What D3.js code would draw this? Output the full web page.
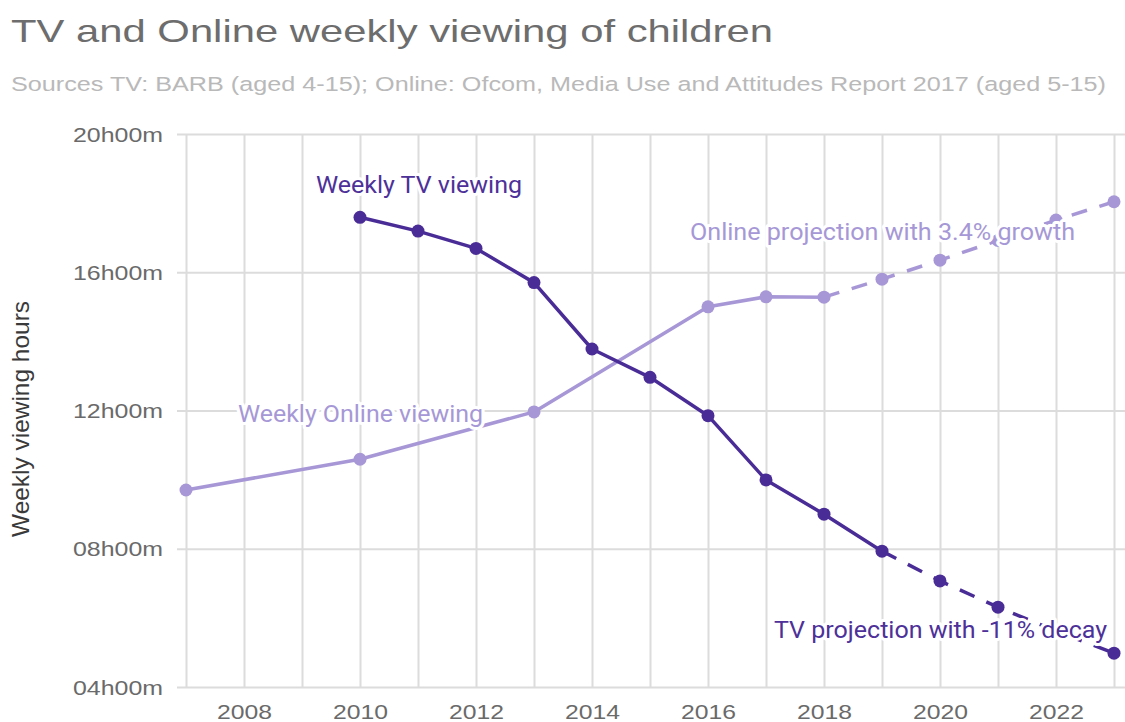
<!DOCTYPE html>
<html>
<head>
<meta charset="utf-8">
<script src="https://cdn.jsdelivr.net/npm/d3@7"></script>
<style>
  html, body { margin: 0; padding: 0; background: #fff; }
  svg { display: block; }
  text { font-family: "Liberation Sans", Arial, sans-serif; }
  .note { font-family: Roboto, "Liberation Sans", sans-serif; paint-order: stroke; stroke: #fff; stroke-width: 6px; stroke-linejoin: round; }
</style>
</head>
<body>
<script>
// Weekly viewing hours of children, TV (BARB) and online (Ofcom)
const tvYears      = [2010, 2011, 2012, 2013, 2014, 2015, 2016, 2017, 2018, 2019];
const tvHours      = [17.59, 17.19, 16.69, 15.70, 13.78, 12.96, 11.85, 9.99, 9.00, 7.93];
const tvProjYears  = [2019, 2020, 2021, 2022, 2023];
const tvProjHours  = [7.93, 7.07, 6.31, 5.62, 4.98];

const onlineYears     = [2007, 2010, 2013, 2016, 2017, 2018];
const onlineHours     = [9.70, 10.59, 11.96, 15.00, 15.29, 15.28];
const onlineProjYears = [2018, 2019, 2020, 2021, 2022, 2023];
const onlineProjHours = [15.28, 15.80, 16.35, 16.92, 17.51, 18.04];

const gridYears  = d3.range(2007, 2024);
const yearLabels = [2008, 2010, 2012, 2014, 2016, 2018, 2020, 2022];
const hourTicks  = [4, 8, 12, 16, 20];

const title    = "TV and Online weekly viewing of children";
const subtitle = "Sources TV: BARB (aged 4-15); Online: Ofcom, Media Use and Attitudes Report 2017 (aged 5-15)";
const yTitle   = "Weekly viewing hours";

const W = 1125, H = 722;
const plot = { left: 177, right: 1125, top: 134, bottom: 687 };

const TV_COLOR = "#4a2c97";
const ONLINE_COLOR = "#a797d6";
const GRID = "#dcdcdc";

const x = d3.scaleLinear().domain([2007, 2023]).range([186, 1114]);
const y = d3.scaleLinear().domain([4, 20]).range([plot.bottom, plot.top]);

const svg = d3.select("body").append("svg").attr("width", W).attr("height", H);

// Title and subtitle
svg.append("text")
  .attr("x", 11).attr("y", 42)
  .attr("font-size", 32).attr("fill", "#6d6d6d")
  .attr("textLength", 762).attr("lengthAdjust", "spacingAndGlyphs")
  .text(title);

svg.append("text")
  .attr("x", 11).attr("y", 91)
  .attr("font-size", 20.5).attr("fill", "#b9b9b9")
  .attr("textLength", 1095).attr("lengthAdjust", "spacingAndGlyphs")
  .text(subtitle);

// Horizontal grid + hour labels
const hourFmt = v => d3.format("02d")(v) + "h00m";
const yAxis = svg.append("g")
  .attr("transform", `translate(${plot.left},0)`)
  .call(d3.axisLeft(y).tickValues(hourTicks).tickSize(-(plot.right - plot.left)).tickPadding(14).tickFormat(hourFmt));
yAxis.select(".domain").remove();
yAxis.selectAll(".tick line").attr("stroke", GRID).attr("stroke-width", 2);
yAxis.selectAll(".tick text")
  .attr("font-size", 20).attr("fill", "#6a6a6a")
  .attr("font-family", "Liberation Sans, Arial, sans-serif")
  .attr("dy", "0.36em")
  .attr("textLength", 90).attr("lengthAdjust", "spacingAndGlyphs");

// Vertical grid + year labels
const xAxis = svg.append("g")
  .attr("transform", `translate(0,${plot.bottom})`)
  .call(d3.axisBottom(x).tickValues(gridYears).tickSize(-(plot.bottom - plot.top)).tickPadding(0)
    .tickFormat(v => yearLabels.includes(v) ? String(v) : ""));
xAxis.select(".domain").remove();
xAxis.selectAll(".tick line").attr("stroke", GRID).attr("stroke-width", 2);
xAxis.selectAll(".tick text")
  .attr("font-size", 21).attr("fill", "#6a6a6a")
  .attr("font-family", "Liberation Sans, Arial, sans-serif")
  .attr("y", 32).attr("dy", 0)
  .each(function (d) {
    if (yearLabels.includes(d)) d3.select(this).attr("textLength", 55).attr("lengthAdjust", "spacingAndGlyphs");
  });

// Y axis title
svg.append("text")
  .attr("transform", `translate(29,419) rotate(-90)`)
  .attr("text-anchor", "middle")
  .attr("font-size", 24).attr("fill", "#3a3a3a")
  .attr("textLength", 236).attr("lengthAdjust", "spacingAndGlyphs")
  .text(yTitle);

// Series
const line = d3.line().x(d => x(d[0])).y(d => y(d[1]));
const zip = (a, b) => a.map((v, i) => [v, b[i]]);

function drawSeries(years, hours, projYears, projHours, color) {
  const g = svg.append("g");
  g.append("path").datum(zip(projYears, projHours))
    .attr("d", line).attr("fill", "none").attr("stroke", color)
    .attr("stroke-width", 3.5).attr("stroke-dasharray", "16,13");
  g.append("path").datum(zip(years, hours))
    .attr("d", line).attr("fill", "none").attr("stroke", color)
    .attr("stroke-width", 3.5).attr("stroke-linejoin", "round");
  const pts = zip(years, hours).concat(zip(projYears, projHours).slice(1));
  g.selectAll("circle").data(pts).join("circle")
    .attr("cx", d => x(d[0])).attr("cy", d => y(d[1])).attr("r", 6.5)
    .attr("fill", color);
}

drawSeries(onlineYears, onlineHours, onlineProjYears, onlineProjHours, ONLINE_COLOR);
drawSeries(tvYears, tvHours, tvProjYears, tvProjHours, TV_COLOR);

// Annotations
const notes = [
  { text: "Weekly TV viewing", x: 316, y: 193, len: 206, color: "#4d3199" },
  { text: "Weekly Online viewing", x: 238, y: 422, len: 245, color: "#a698d6" },
  { text: "Online projection with 3.4% growth", x: 690, y: 240, len: 385, color: "#a698d6" },
  { text: "TV projection with -11% decay", x: 774, y: 638, len: 333, color: "#4d3199" }
];
svg.selectAll("text.note").data(notes).join("text")
  .attr("class", "note")
  .attr("x", d => d.x).attr("y", d => d.y)
  .attr("font-size", 23).attr("fill", d => d.color)
  .attr("textLength", d => d.len).attr("lengthAdjust", "spacingAndGlyphs")
  .text(d => d.text);
</script>
</body>
</html>
